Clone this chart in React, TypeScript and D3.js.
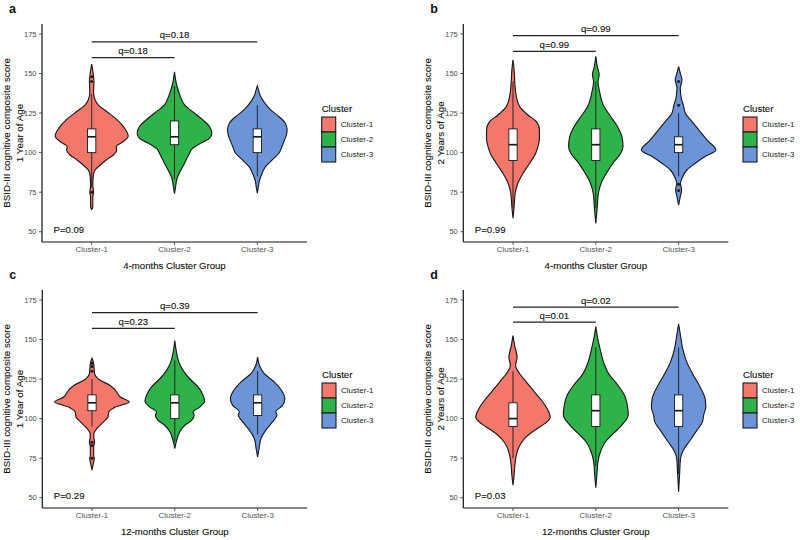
import React from 'react';
import * as d3 from 'd3';

const clusters = ['Cluster-1', 'Cluster-2', 'Cluster-3'];
const clusterColors = ['#F3786B', '#2DB34A', '#6B95D8'];
const yTicks = [50, 75, 100, 125, 150, 175];

const panelLetters = ['a', 'b', 'c', 'd'];
const xTitles = ['4-months Cluster Group', '4-months Cluster Group', '12-months Cluster Group', '12-months Cluster Group'];
const yTitleTop = 'BSID-III cognitive composite score';
const yTitleBottom = ['1 Year of Age', '2 Years of Age', '1 Year of Age', '2 Years of Age'];
const pLabels = ['P=0.09', 'P=0.99', 'P=0.29', 'P=0.03'];
const q12Labels = ['q=0.18', 'q=0.99', 'q=0.23', 'q=0.01'];
const q13Labels = ['q=0.18', 'q=0.99', 'q=0.39', 'q=0.02'];
const q12Heights = [160, 164, 157, 161];
const q13Heights = [170, 174, 167, 170.5];

// violin outlines: [score, relative density]
const violinsA = [
  [[64, 0], [66, 0.03], [72, 0.03], [75, 0.05], [79, 0.03], [85, 0.04], [89, 0.09], [92, 0.22], [95.5, 0.4], [98.5, 0.58], [101.5, 0.67], [103.8, 0.66], [107, 0.85], [110.5, 0.98], [115.5, 0.88], [121, 0.67], [126, 0.4], [130, 0.18], [133.4, 0.09], [138, 0.05], [145, 0.06], [150, 0.04], [156, 0]],
  [[74, 0], [78.5, 0.03], [83.8, 0.07], [88, 0.15], [93.3, 0.27], [98.5, 0.38], [102.8, 0.49], [106, 0.71], [109.1, 0.94], [112.3, 1.0], [116.5, 0.94], [120.7, 0.76], [124.9, 0.54], [130.2, 0.27], [135.4, 0.16], [141.8, 0.07], [146, 0.03], [151, 0]],
  [[74.3, 0], [78.5, 0.03], [82.7, 0.06], [87, 0.13], [91.1, 0.22], [95.4, 0.4], [99.6, 0.58], [103.8, 0.66], [108, 0.73], [111, 0.78], [114.4, 0.8], [118.6, 0.75], [122.8, 0.58], [127, 0.36], [131.3, 0.2], [135.4, 0.09], [139, 0.04], [142.2, 0]],
];
const violinsB = [
  [[58.5, 0], [65.8, 0.03], [74.3, 0.06], [80.6, 0.13], [87, 0.27], [93.3, 0.45], [99.6, 0.61], [103.8, 0.67], [109.1, 0.71], [114.4, 0.71], [119.6, 0.63], [123.8, 0.4], [129.1, 0.18], [135.4, 0.09], [143.9, 0.05], [152.3, 0.03], [158.7, 0]],
  [[55.3, 0], [65.8, 0.04], [74.3, 0.07], [81.6, 0.16], [88, 0.31], [94.3, 0.49], [99.6, 0.67], [103.8, 0.73], [110.1, 0.7], [116.5, 0.58], [122.8, 0.4], [129.1, 0.22], [137.6, 0.11], [144.9, 0.06], [149.2, 0.09], [154.4, 0.04], [160.8, 0]],
  [[66.9, 0], [72.2, 0.045], [76.4, 0.08], [80.6, 0.05], [83.8, 0.09], [89, 0.22], [93.3, 0.45], [97.5, 0.71], [101.7, 1.0], [108, 0.76], [114.4, 0.54], [119.6, 0.36], [124.9, 0.18], [130.2, 0.125], [134.4, 0.07], [140.8, 0.045], [146, 0.09], [150.2, 0.045], [154.4, 0]],
];
const violinsC = [
  [[67.5, 0], [72, 0.04], [74.8, 0.06], [77, 0.045], [82, 0.045], [85.3, 0.07], [88, 0.05], [90.6, 0.05], [93.7, 0.13], [97.9, 0.31], [101, 0.43], [104.2, 0.45], [107.3, 0.63], [110.5, 1.0], [113.7, 0.76], [117.9, 0.63], [121, 0.49], [124.2, 0.22], [128.4, 0.07], [133.6, 0.05], [136, 0.035], [138.2, 0]],
  [[81.1, 0], [86.3, 0.05], [91.5, 0.13], [95.8, 0.27], [98.9, 0.45], [102.1, 0.52], [104.2, 0.49], [107.3, 0.67], [110.9, 0.8], [114.7, 0.76], [119.9, 0.63], [125.2, 0.4], [130.5, 0.22], [135.7, 0.11], [142, 0.045], [149.4, 0]],
  [[75.8, 0], [81.1, 0.04], [87.4, 0.09], [92.7, 0.22], [97.9, 0.4], [102.1, 0.52], [104.2, 0.49], [108.4, 0.67], [112.6, 0.73], [117.9, 0.64], [123.1, 0.45], [128.4, 0.18], [133.6, 0.05], [138.9, 0]],
];
const violinsD = [
  [[58, 0], [64.3, 0.03], [70.6, 0.05], [76.9, 0.09], [82.1, 0.16], [87.4, 0.31], [92.6, 0.58], [96.8, 0.85], [101, 1.0], [104.2, 0.96], [110.5, 0.8], [116.8, 0.58], [123.1, 0.36], [128.4, 0.18], [133.6, 0.07], [138.9, 0.11], [146.2, 0.045], [152.5, 0]],
  [[56.3, 0], [64.7, 0.03], [73.1, 0.06], [79.4, 0.13], [85.7, 0.27], [91, 0.49], [96.2, 0.71], [102.5, 0.87], [107.8, 0.85], [115.2, 0.76], [121.5, 0.58], [127.8, 0.36], [136.2, 0.2], [144.6, 0.11], [150.9, 0.05], [158.2, 0]],
  [[53.8, 0], [66.4, 0.03], [74.8, 0.05], [80.1, 0.13], [86.3, 0.31], [92.6, 0.49], [97.9, 0.64], [102.1, 0.67], [107.3, 0.73], [112.6, 0.71], [119.9, 0.58], [127.3, 0.4], [135.7, 0.22], [144.1, 0.11], [152.5, 0.05], [159.9, 0]],
];

// boxplot stats: [lower whisker, q1, median, q3, upper whisker]
const boxesA = [[78, 100, 110, 115, 137], [83, 105, 110, 120, 142], [85, 100, 110, 115, 130]];
const boxesB = [[65, 95, 105, 115, 145], [65, 95, 105, 115, 145], [85, 100, 105, 110, 125]];
const boxesC = [[95, 105, 110, 115, 125], [85, 100, 110, 115, 137], [90, 102, 110, 115, 130]];
const boxesD = [[75, 95, 100, 110, 130], [70, 95, 105, 115, 145], [65, 95, 105, 115, 145]];

const outliersA = [[75, 145, 148], [], []];
const outliersB = [[], [], [76, 80, 130, 145]];
const outliersC = [[75, 83, 85, 130, 133, 135], [], []];
const outliersD = [[], [], []];

const panels = [
  { violins: violinsA, boxes: boxesA, outliers: outliersA },
  { violins: violinsB, boxes: boxesB, outliers: outliersB },
  { violins: violinsC, boxes: boxesC, outliers: outliersC },
  { violins: violinsD, boxes: boxesD, outliers: outliersD },
];

const W = 800;
const H = 540;
const PW = 265;
const PH = 218;
const origins = [[42, 24], [463.3, 24], [42.3, 290], [463.3, 290]];
const FONT = 'Liberation Sans, Arial, Helvetica, sans-serif';

// thin stroke on text to match the slightly heavier look of the original
const ink = { fill: '#111', stroke: '#111', strokeWidth: 0.12 };

function Panel({ i }: { i: number }) {
  const [left, top] = origins[i];
  const p = panels[i];

  const x = d3.scalePoint<string>().domain(clusters).range([left, left + PW]).padding(0.6);
  const y = d3.scaleLinear().domain([43.5, 181.3]).range([top + PH, top]);
  const step = x.step();
  const halfW = d3.scaleLinear().domain([0, 1]).range([0, step * 0.45]);
  const boxW = step * 0.1;

  const c1 = x(clusters[0])!;
  const c2 = x(clusters[1])!;
  const c3 = x(clusters[2])!;

  const legX = left + 279.7;
  const legY = top + 93;

  return (
    <g>
      <text x={left - 33} y={top - 11} fontSize={12.5} fontWeight="bold" fill="#111">
        {panelLetters[i]}
      </text>

      {/* violins */}
      {p.violins.map((pts, k) => {
        const cx = x(clusters[k])!;
        const area = d3
          .area<number[]>()
          .y((d) => y(d[0]))
          .x0((d) => cx - halfW(d[1]))
          .x1((d) => cx + halfW(d[1]))
          .curve(d3.curveMonotoneY);
        return (
          <path key={'v' + k} d={area(pts) || ''} fill={clusterColors[k]} stroke="#1a1a1a" strokeWidth={1.15} />
        );
      })}

      {/* boxplots */}
      {p.boxes.map((b, k) => {
        const cx = x(clusters[k])!;
        return (
          <g key={'b' + k}>
            <line x1={cx} x2={cx} y1={y(b[0])} y2={y(b[1])} stroke="#1a1a1a" strokeWidth={0.9} />
            <line x1={cx} x2={cx} y1={y(b[3])} y2={y(b[4])} stroke="#1a1a1a" strokeWidth={0.9} />
            <rect x={cx - boxW / 2} y={y(b[3])} width={boxW} height={y(b[1]) - y(b[3])} fill="#fff" stroke="#1a1a1a" strokeWidth={0.9} />
            <line x1={cx - boxW / 2} x2={cx + boxW / 2} y1={y(b[2])} y2={y(b[2])} stroke="#1a1a1a" strokeWidth={1.7} />
            {p.outliers[k].map((o, j) => (
              <circle key={j} cx={cx} cy={y(o)} r={1.5} fill="#1a1a1a" />
            ))}
          </g>
        );
      })}

      {/* axes */}
      <line x1={left} x2={left} y1={top} y2={top + PH} stroke="#111" strokeWidth={1.2} />
      <line x1={left} x2={left + PW} y1={top + PH} y2={top + PH} stroke="#111" strokeWidth={1.2} />
      {yTicks.map((t) => (
        <g key={'yt' + t}>
          <line x1={left - 3} x2={left} y1={y(t)} y2={y(t)} stroke="#333" strokeWidth={0.8} />
          <text x={left - 5.5} y={y(t) + 2.6} fontSize={7.5} textAnchor="end" fill="#4d4d4d">
            {t}
          </text>
        </g>
      ))}
      {clusters.map((c) => (
        <g key={'xt' + c}>
          <line x1={x(c)} x2={x(c)} y1={top + PH} y2={top + PH + 3} stroke="#333" strokeWidth={0.8} />
          <text x={x(c)} y={top + PH + 10.3} fontSize={8} textAnchor="middle" fill="#555">
            {c}
          </text>
        </g>
      ))}
      <text x={left + PW / 2} y={top + PH + 27.3} fontSize={9.6} textAnchor="middle" {...ink}>
        {xTitles[i]}
      </text>
      <g transform={`translate(${left - 32},${top + PH / 2}) rotate(-90)`}>
        <text x={0} y={0} fontSize={9.8} textAnchor="middle" {...ink}>
          {yTitleTop}
        </text>
        <text x={0} y={12.5} fontSize={9.8} textAnchor="middle" {...ink}>
          {yTitleBottom[i]}
        </text>
      </g>

      {/* significance brackets */}
      <line x1={c1} x2={c2} y1={y(q12Heights[i])} y2={y(q12Heights[i])} stroke="#222" strokeWidth={1.3} />
      <text x={(c1 + c2) / 2} y={y(q12Heights[i]) - 3.5} fontSize={9.6} textAnchor="middle" {...ink}>
        {q12Labels[i]}
      </text>
      <line x1={c1} x2={c3} y1={y(q13Heights[i])} y2={y(q13Heights[i])} stroke="#222" strokeWidth={1.3} />
      <text x={(c1 + c3) / 2} y={y(q13Heights[i]) - 3.5} fontSize={9.6} textAnchor="middle" {...ink}>
        {q13Labels[i]}
      </text>
      <text x={left + 11.5} y={y(49)} fontSize={9.6} {...ink}>
        {pLabels[i]}
      </text>

      {/* legend */}
      <text x={legX} y={legY - 5.3} fontSize={9.6} {...ink}>
        Cluster
      </text>
      {clusters.map((c, k) => (
        <g key={'lg' + c}>
          <rect x={legX} y={legY + k * 15} width={14} height={15} fill={clusterColors[k]} stroke="#1a1a1a" strokeWidth={1.1} />
          <text x={legX + 19} y={legY + k * 15 + 10.3} fontSize={8} fill="#222">
            {c}
          </text>
        </g>
      ))}
    </g>
  );
}

export default function App() {
  return (
    <svg
      width={W}
      height={H}
      viewBox={`0 0 ${W} ${H}`}
      style={{ position: 'absolute', left: 0, top: 0, background: '#fff', fontFamily: FONT }}
    >
      <rect width={W} height={H} fill="#fff" />
      {panels.map((_, i) => (
        <Panel key={i} i={i} />
      ))}
    </svg>
  );
}
